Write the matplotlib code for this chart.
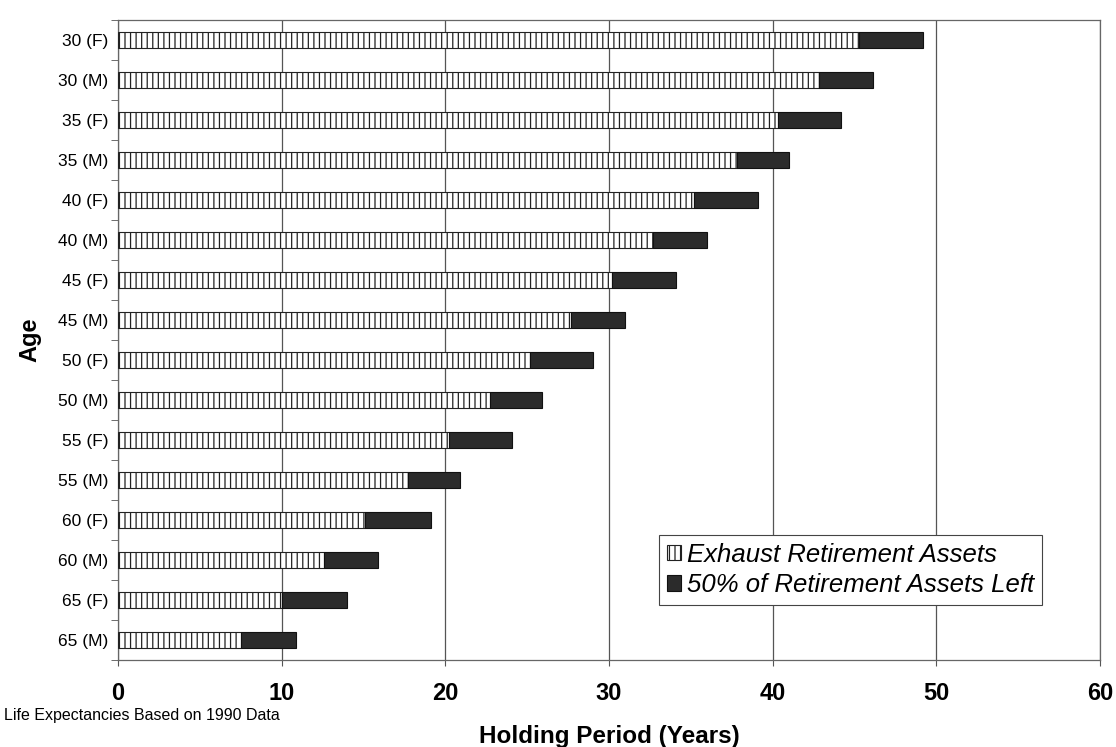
import matplotlib.pyplot as plt
import numpy as np
from matplotlib.ticker import FixedLocator

plt.rcParams["font.family"] = ["Liberation Sans", "DejaVu Sans"]
plt.rcParams["hatch.linewidth"] = 0.9

ages = ["30 (F)", "30 (M)", "35 (F)", "35 (M)", "40 (F)", "40 (M)", "45 (F)", "45 (M)",
        "50 (F)", "50 (M)", "55 (F)", "55 (M)", "60 (F)", "60 (M)", "65 (F)", "65 (M)"]
# years until retirement assets are exhausted
exhaust = [45.3, 42.8, 40.3, 37.8, 35.2, 32.7, 30.2, 27.7,
           25.2, 22.7, 20.2, 17.7, 15.1, 12.6, 10.0, 7.5]
# years until 50% of assets left (end of dark segment)
half_left = [49.2, 46.1, 44.2, 41.0, 39.1, 36.0, 34.1, 31.0,
             29.0, 25.9, 24.1, 20.9, 19.1, 15.9, 14.0, 10.9]

fig = plt.figure(figsize=(11.16, 7.47), dpi=100)
ax = fig.add_axes([0.1057, 0.1165, 0.88, 0.8567])

y = np.arange(len(ages))
extra = np.array(half_left) - np.array(exhaust)
ax.barh(y, exhaust, height=0.42, color="white", edgecolor="#222222", hatch="|||",
        linewidth=0.8, label="Exhaust Retirement Assets", zorder=3)
ax.barh(y, extra, left=exhaust, height=0.42, color="#2b2b2b", edgecolor="#111111",
        linewidth=0.8, label="50% of Retirement Assets Left", zorder=3)

ax.set_xlim(0, 60)
ax.set_ylim(len(ages) - 0.5, -0.5)
ax.set_xticks(range(0, 61, 10))
ax.set_xticklabels([str(v) for v in range(0, 61, 10)], fontsize=17, fontweight="bold")
ax.set_yticks(y)
ax.set_yticklabels(ages, fontsize=12.5)
ax.tick_params(axis="y", length=0, pad=7)
ax.yaxis.set_minor_locator(FixedLocator(np.arange(-0.5, len(ages), 1)))
ax.tick_params(axis="y", which="minor", length=5, color="#555555")
ax.tick_params(axis="x", length=4, color="#555555", pad=12)
ax.grid(axis="x", color="#555555", linewidth=0.9, zorder=0)
for s in ax.spines.values():
    s.set_color("#666666")
    s.set_linewidth(0.9)

ax.set_xlabel("Holding Period (Years)", fontsize=17.5, fontweight="bold", labelpad=14)
ax.set_ylabel("Age", fontsize=17, fontweight="bold", labelpad=12)

leg = ax.legend(loc="lower right", bbox_to_anchor=(0.941, 0.086), borderaxespad=0,
                fancybox=False, framealpha=1, edgecolor="#444444",
                prop={"size": 18.5, "style": "italic"}, handlelength=0.55,
                handleheight=0.55, handletextpad=0.25, labelspacing=0.25,
                borderpad=0.3)
leg.get_frame().set_linewidth(0.8)

fig.text(0.004, 0.042, "Life Expectancies Based on 1990 Data", fontsize=11.5, va="center")

fig.savefig("out.png", dpi=100)
